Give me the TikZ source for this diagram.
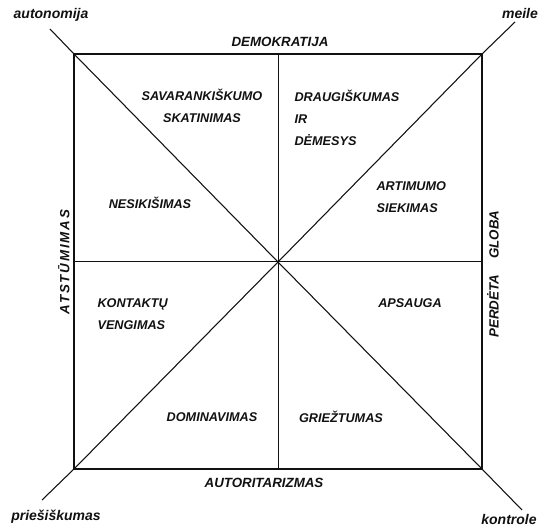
\documentclass[tikz,border=0pt]{standalone}
\usepackage{fontspec}
\setsansfont{Liberation Sans}
\usepackage{tikz}
\usetikzlibrary{positioning,calc}
\definecolor{ink}{HTML}{111111}
\tikzset{
  frame/.style={draw=ink,line width=1.3pt},
  ray/.style={draw=ink,line width=.8pt},
  midline/.style={draw=ink,line width=.75pt},
  quad/.style={
    font=\sffamily\bfseries\itshape\fontsize{9.5}{16.5}\selectfont,
    text=ink,inner sep=1pt
  },
  sidelabel/.style={
    font=\sffamily\bfseries\itshape\fontsize{10}{11}\selectfont,
    text=ink,inner sep=1pt
  },
  pole/.style={
    font=\sffamily\bfseries\itshape\fontsize{10.5}{12}\selectfont,
    text=ink,inner sep=1pt
  }
}
\begin{document}
\begin{tikzpicture}[x=0.75pt,y=-0.75pt]
\useasboundingbox (0,0) rectangle (543,527);
% corners of the square and the centre
\coordinate (nw) at (74,54);
\coordinate (ne) at (482,54);
\coordinate (se) at (482,469);
\coordinate (sw) at (74,469);
\coordinate (c) at (278,262);
\coordinate (n) at (278,54);
\coordinate (s) at (278,469);
\coordinate (w) at (74,262);
\coordinate (e) at (482,262);
% free ends of the diagonals
\coordinate (nwend) at (50,29);
\coordinate (neend) at (515,22);
\coordinate (swend) at (42,500);
\coordinate (seend) at (522,510);
% square, axes, diagonals
\draw[frame] (nw) -- (ne) -- (se) -- (sw) -- cycle;
\draw[midline] (n) -- (s);
\draw[midline] (w) -- (e);
\draw[ray] (nwend) -- (nw) -- (c) -- (se) -- (seend);
\draw[ray] (swend) -- (sw) -- (c) -- (ne) -- (neend);
% poles at the ends of the diagonals
\node[pole] (autonomija) at (51,15) {autonomija};
\node[pole] (meile) at (520,13) {meile};
\node[pole] (priesiskumas) at (56,517) {priešiškumas};
\node[pole] (kontrole) at (509,519) {kontrole};
% labels of the sides
\node[sidelabel] (demokratija) at (280,42) {DEMOKRATIJA};
\node[sidelabel] (autoritarizmas) at (264,483) {AUTORITARIZMAS};
\node[sidelabel,rotate=90] (atstumimas) at (64,262)
  {\addfontfeature{LetterSpace=14}ATSTŪMIMAS};
\node[sidelabel,rotate=90] (globa) at (493,274) {PERDĖTA\hspace{1.2em}GLOBA};
% labels of the sectors
\node[quad,align=center] (savarankiskumo) at (202,106) {SAVARANKIŠKUMO\\SKATINIMAS};
\node[quad,align=left,anchor=west] (draugiskumas) at (293,118) {DRAUGIŠKUMAS\\IR\\DĖMESYS};
\node[quad] (nesikisimas) at (150,203) {NESIKIŠIMAS};
\node[quad,align=left,anchor=west] (artimumo) at (375,197) {ARTIMUMO\\SIEKIMAS};
\node[quad,align=left,anchor=west] (kontaktu) at (96,314) {KONTAKTŲ\\VENGIMAS};
\node[quad] (apsauga) at (410,303) {APSAUGA};
\node[quad] (dominavimas) at (212,417) {DOMINAVIMAS};
\node[quad] (grieztumas) at (341,417) {GRIEŽTUMAS};
\end{tikzpicture}
\end{document}
